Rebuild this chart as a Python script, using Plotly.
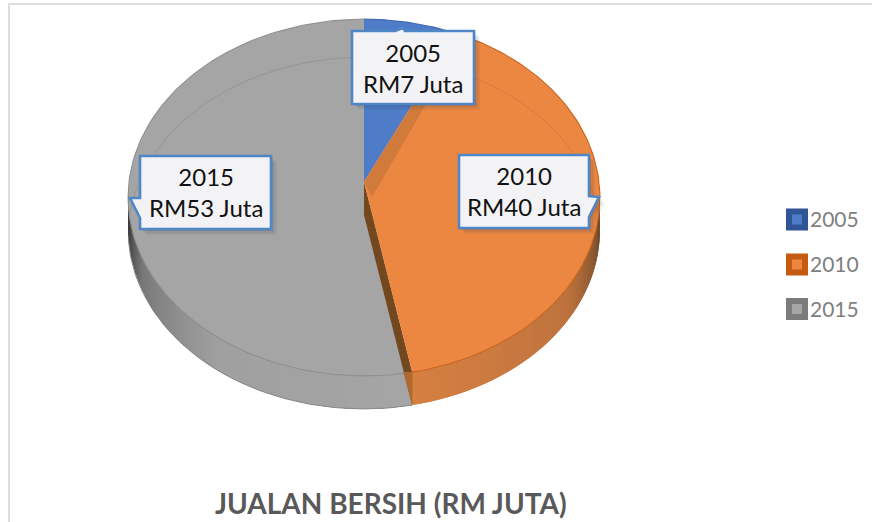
import numpy as np
import plotly.graph_objects as go

years = ["2005", "2010", "2015"]
values = [7, 40, 53]
title_text = "JUALAN BERSIH (RM JUTA)"

top_colors = {"2005": "#4f7cc6", "2010": "#ec8741", "2015": "#a5a5a5"}
rim_colors = {"2005": "#3f6ab0", "2010": "#c8641e", "2015": "#8f8f8f"}
key_border = ["#2f5597", "#c55a11", "#7b7b7b"]
key_fill = ["#4f7cc6", "#ec8741", "#a5a5a5"]

# pie projection (a tilted disc seen in perspective), in pixels of the page
CX, CY, RX, RY, PERSP, DEPTH = 364, 182, 235, 177, 0.087, 33


def project(theta_deg, dy=0.0):
    t = np.radians(np.asarray(theta_deg, dtype=float))
    u, v = np.sin(t), np.cos(t)
    w = 1 + PERSP * v
    return CX + RX * u / w, CY - RY * v / w + dy


def mix(stops, t):
    ts = [s[0] for s in stops]
    chans = [np.interp(t, ts, [s[1][i] for s in stops]) for i in range(3)]
    return "rgb(%d,%d,%d)" % tuple(int(c) for c in chans)


edges = np.concatenate([[0], np.cumsum(values)]) / np.sum(values) * 360
a0, a1, a2, a3 = edges

fig = go.Figure()


def poly(xs, ys, fill, line=None, width=0.0):
    fig.add_trace(go.Scatter(
        x=list(xs), y=list(ys), mode="lines", fill="toself", fillcolor=fill,
        line=dict(color=line or fill, width=width if line else 0),
        hoverinfo="skip", showlegend=False))


def wall(t0, t1, stops, step=1.5):
    # strips painted in order, each overlapping the next, so no seams show
    n = int(abs(t1 - t0) / step) + 1
    grid = np.linspace(t0, t1, n + 1)
    for s, e in zip(grid[:-1], grid[1:]):
        ts = np.linspace(s, min(e + step, t1), 5)
        x, y = project(ts)
        xb, yb = project(ts, DEPTH)
        poly(np.r_[x, xb[::-1]], np.r_[y, yb[::-1]], mix(stops, (s + e) / 2))


# side walls, shaded along the rim
wall(268, a2, [(a2, (166, 166, 166)), (215, (160, 160, 160)), (245, (120, 120, 120)),
               (258, (70, 70, 70)), (268, (40, 40, 40))])
wall(94, a2, [(94, (70, 50, 32)), (103, (125, 80, 45)), (125, (190, 115, 62)),
              (a2, (214, 128, 66))])

# lower outline of the grey wall
lx, ly = project(np.linspace(a2, 262, 80), DEPTH)
fig.add_trace(go.Scatter(x=lx, y=ly, mode="lines", line=dict(color="#8a8a8a", width=1),
                         hoverinfo="skip", showlegend=False))


def sector(t0, t1, name):
    ts = np.linspace(t0, t1, 120)
    x, y = project(ts)
    poly(np.r_[CX, x, CX], np.r_[CY, y, CY], top_colors[name])
    fig.add_trace(go.Scatter(x=x, y=y, mode="lines",
                             line=dict(color=rim_colors[name], width=1.1),
                             hoverinfo="skip", showlegend=False))


sector(a2, a3, years[2])
sector(a0, a1, years[0])

# dark cut face between the 2010 and 2015 slices
ex, ey = project(a2)
ebx, eby = project(a2, DEPTH)
poly([CX, CX, ebx, ex], [CY, CY + DEPTH, eby, ey], "#74481f")
poly([ex - 9, ebx, ex], [ey, eby, ey], "#b0692f")

sector(a1, a2, years[1])

# cut face along the 2005 / 2010 edge
bx, by = project(a1)
cx2, cy2 = project(a1 + 2.5)
poly([CX, bx, cx2, CX + 8, CX], [CY, by, cy2, CY + 15, CY], "#d07a3c")

# faint far rim seen through the top
ts = np.linspace(-88, 88, 120)
fx, fy = project(ts, 38)
fig.add_trace(go.Scatter(x=fx, y=fy, mode="lines",
                         line=dict(color="rgba(70,50,30,0.13)", width=1),
                         hoverinfo="skip", showlegend=False))

# legend keys
key_y = [219.5, 264.5, 309]
fig.add_trace(go.Scatter(
    x=[797] * 3, y=key_y, mode="markers",
    marker=dict(symbol="square", size=16, color=key_fill,
                line=dict(color=key_border, width=6)),
    hoverinfo="skip", showlegend=False))


def callout(pts):
    return "M " + " L ".join(f"{x} {y}" for x, y in pts) + " Z"


boxes = {
    "2005": [(352, 31), (395, 31), (403, 28), (405, 31), (474, 31), (474, 104), (352, 104)],
    "2010": [(459, 155), (589, 155), (589, 196), (599, 197), (589, 217), (589, 228), (459, 228)],
    "2015": [(140, 156), (271, 156), (271, 229), (140, 229), (140, 218), (130, 198), (140, 198)],
}
shapes = [dict(type="path", xref="x", yref="y", layer="above",
               path="M 9 522 L 9 4 L 872 4", line=dict(color="#dedede", width=2))]
for name, pts in boxes.items():
    for off, alpha in ((6, 0.07), (4, 0.09), (2, 0.11)):
        shifted = [(x + off, y + off) for x, y in pts]
        shapes.append(dict(type="path", xref="x", yref="y", layer="above",
                           path=callout(shifted), fillcolor=f"rgba(30,50,80,{alpha})",
                           line=dict(width=0)))
    shapes.append(dict(type="path", xref="x", yref="y", layer="above",
                       path=callout(pts), fillcolor="rgb(243,243,245)",
                       line=dict(color="#4f86c6", width=2.6)))

label_pos = {"2005": (413, 67.5), "2010": (524, 191), "2015": (206, 192)}
annotations = []
for name, val in zip(years, values):
    x, y = label_pos[name]
    annotations.append(dict(x=x, y=y, xref="x", yref="y", showarrow=False,
                            text=f"{name}<br>RM{val} Juta", align="center",
                            font=dict(family="Lato", size=24, color="#111111")))
for name, y in zip(years, key_y):
    annotations.append(dict(x=808, y=y - 1, xref="x", yref="y", showarrow=False,
                            xanchor="left", text=name,
                            font=dict(family="Lato", size=21, color="#7f7f7f")))
annotations.append(dict(x=391, y=503, xref="x", yref="y", showarrow=False,
                        text=f"<b>{title_text}</b>",
                        font=dict(family="Lato", size=28, color="#595959")))

fig.update_layout(
    width=872, height=522, margin=dict(l=0, r=0, t=0, b=0),
    paper_bgcolor="white", plot_bgcolor="white", showlegend=False,
    xaxis=dict(range=[0, 872], visible=False, fixedrange=True),
    yaxis=dict(range=[522, 0], visible=False, fixedrange=True),
    shapes=shapes, annotations=annotations,
)

fig.write_html("out.html", config={"displayModeBar": False},
               post_script="document.body.style.margin='0';document.body.style.overflow='hidden';")
